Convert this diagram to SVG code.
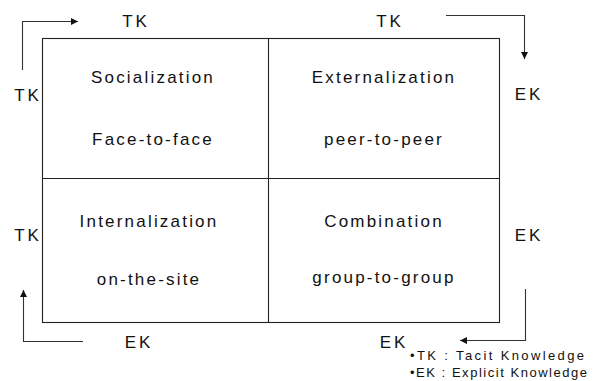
<svg xmlns="http://www.w3.org/2000/svg" width="593" height="381" viewBox="0 0 593 381">
<defs>
<marker id="ah" viewBox="0 0 10 10" refX="10" refY="5" markerWidth="7" markerHeight="7" markerUnits="userSpaceOnUse" orient="auto">
<path d="M0,0 L10,5 L0,10 z" fill="#111"/>
</marker>
</defs>
<style>
.t{font-family:"Liberation Sans",Arial,sans-serif;font-size:17px;fill:#111;letter-spacing:2.2px;text-anchor:middle}
.o{font-family:"Liberation Sans",Arial,sans-serif;font-size:17px;fill:#111;letter-spacing:3px;text-anchor:middle}
.lg{font-family:"Liberation Sans",Arial,sans-serif;font-size:13px;fill:#111}
.b{fill:none;stroke:#222;stroke-width:1.1}
.c{fill:none;stroke:#333;stroke-width:1.1}
</style>
<g id="grid">
<rect class="b" x="42.5" y="38.5" width="457" height="284"/>
<line class="b" x1="268.5" y1="38.5" x2="268.5" y2="322.5"/>
<line class="b" x1="42.5" y1="178.5" x2="499.5" y2="178.5"/>
</g>
<g id="socialization">
<text class="t" x="153" y="83">Socialization</text>
<text class="t" x="153" y="145">Face-to-face</text>
</g>
<g id="externalization">
<text class="t" x="384" y="83">Externalization</text>
<text class="t" x="384" y="145">peer-to-peer</text>
</g>
<g id="internalization">
<text class="t" x="149" y="227">Internalization</text>
<text class="t" x="149" y="285">on-the-site</text>
</g>
<g id="combination">
<text class="t" x="384" y="227">Combination</text>
<text class="t" x="384" y="283">group-to-group</text>
</g>
<g id="connectors">
<polyline class="c" points="22.5,70 22.5,21.5 78,21.5" marker-end="url(#ah)"/>
<polyline class="c" points="446,15.5 524.5,15.5 524.5,59" marker-end="url(#ah)"/>
<polyline class="c" points="525.5,289 525.5,340.5 460,340.5" marker-end="url(#ah)"/>
<polyline class="c" points="83,341.5 23.5,341.5 23.5,290" marker-end="url(#ah)"/>
</g>
<g id="labels">
<text class="o" x="136" y="27">TK</text>
<text class="o" x="390" y="27">TK</text>
<text class="o" x="28" y="101">TK</text>
<text class="o" x="529" y="100">EK</text>
<text class="o" x="28" y="241">TK</text>
<text class="o" x="529" y="241">EK</text>
<text class="o" x="139" y="348">EK</text>
<text class="o" x="394" y="348">EK</text>
</g>
<g id="legend">
<text class="lg" x="410" y="360" textLength="174" lengthAdjust="spacing">•TK : Tacit Knowledge</text>
<text class="lg" x="410" y="377" textLength="177" lengthAdjust="spacing">•EK : Explicit Knowledge</text>
</g>
</svg>
